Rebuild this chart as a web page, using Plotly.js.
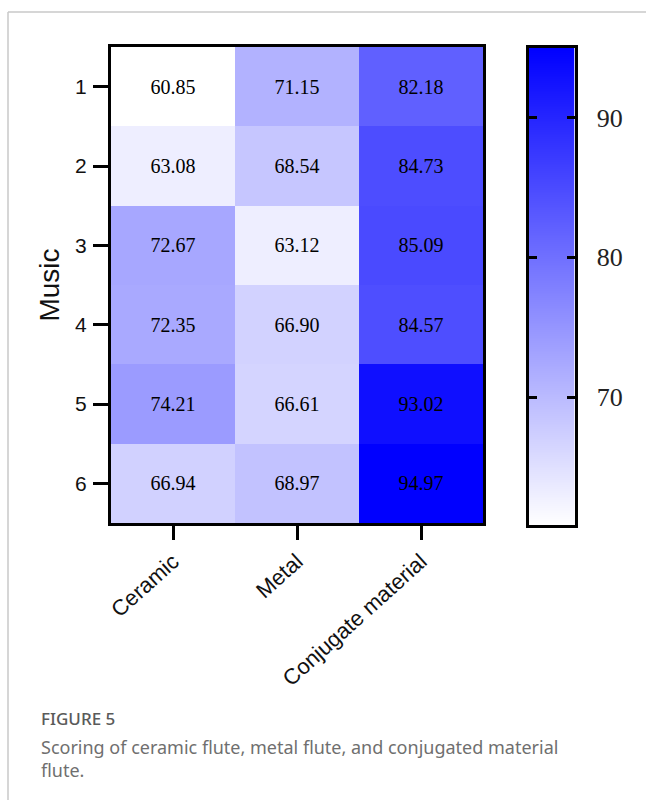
<!DOCTYPE html>
<html>
<head>
<meta charset="utf-8">
<script src="https://cdn.plot.ly/plotly-3.0.1.min.js"></script>
<style>
  html, body { margin: 0; padding: 0; background: #fff; }
  #chart { width: 646px; height: 800px; }
</style>
</head>
<body>
<div id="chart"></div>
<script>
// Flute materials (columns) and music pieces (rows)
const materials = ['Ceramic', 'Metal', 'Conjugate material'];
const pieces = ['1', '2', '3', '4', '5', '6'];

// Scores per music piece, one array per material
const ceramic   = [60.85, 63.08, 72.67, 72.35, 74.21, 66.94];
const metal     = [71.15, 68.54, 63.12, 66.90, 66.61, 68.97];
const conjugate = [82.18, 84.73, 85.09, 84.57, 93.02, 94.97];

const scaleTicks = [70, 80, 90];

// Heatmap rows: one row per piece, one column per material
const z = pieces.map((_, i) => [ceramic[i], metal[i], conjugate[i]]);
const all = ceramic.concat(metal, conjugate);
const zmin = Math.min(...all);
const zmax = Math.max(...all);
const scale = [[0, 'rgb(255,255,255)'], [1, 'rgb(0,0,255)']];

const W = 646, H = 800;
const px = v => v / W;
const py = v => 1 - v / H;

const serif = 'Liberation Serif, Times New Roman, serif';
const sans = 'Liberation Sans, Arial, sans-serif';

const heat = {
  type: 'heatmap',
  x: materials,
  y: pieces,
  z: z,
  zmin: zmin,
  zmax: zmax,
  colorscale: scale,
  showscale: false,
  texttemplate: '%{z:.2f}',
  textfont: { family: serif, size: 20, color: '#000' },
  hoverinfo: 'skip'
};

// Colour scale bar: the range end points, smoothly interpolated along its own axis
const scaleBar = {
  type: 'heatmap',
  xaxis: 'x2', yaxis: 'y2',
  x: [0, 1],
  y: [zmin, zmax],
  z: [[zmin, zmin], [zmax, zmax]],
  zmin: zmin,
  zmax: zmax,
  colorscale: scale,
  zsmooth: 'best',
  showscale: false,
  hoverinfo: 'skip'
};

const layout = {
  width: W, height: H,
  margin: { l: 0, r: 0, t: 0, b: 0 },
  paper_bgcolor: '#fff',
  plot_bgcolor: '#fff',
  showlegend: false,
  font: { family: sans, color: '#111' },
  xaxis: {
    domain: [px(111), px(483)],
    type: 'category',
    showline: true, linecolor: '#000', linewidth: 3, mirror: true,
    ticks: 'outside', ticklen: 14, tickwidth: 3, tickcolor: '#000',
    tickangle: -42,
    tickfont: { family: sans, size: 22, color: '#111' },
    showgrid: false, zeroline: false
  },
  yaxis: {
    domain: [py(523), py(47)],
    type: 'category',
    autorange: 'reversed',
    showline: true, linecolor: '#000', linewidth: 3, mirror: true,
    ticks: 'outside', ticklen: 15, tickwidth: 3, tickcolor: '#000',
    tickfont: { family: sans, size: 21, color: '#111' },
    ticklabelstandoff: 2,
    title: { text: 'Music', font: { family: sans, size: 28, color: '#111' }, standoff: 8 },
    showgrid: false, zeroline: false
  },
  xaxis2: {
    domain: [px(528.5), px(574.5)],
    anchor: 'y2',
    range: [0, 1],
    showline: true, linecolor: '#000', linewidth: 3, mirror: true,
    ticks: '', showticklabels: false,
    showgrid: false, zeroline: false
  },
  yaxis2: {
    domain: [py(525), py(48)],
    anchor: 'x2',
    side: 'right',
    range: [zmin, zmax],
    tickmode: 'array', tickvals: scaleTicks,
    ticks: 'inside', ticklen: 8, tickwidth: 3, tickcolor: '#000',
    showline: true, linecolor: '#000', linewidth: 3, mirror: 'ticks',
    showgrid: false, zeroline: false,
    tickfont: { family: serif, size: 26, color: '#222' },
    ticklabelstandoff: 14
  },
  shapes: [
    { type: 'line', xref: 'paper', yref: 'paper', x0: px(8), x1: 1, y0: py(12), y1: py(12), line: { color: '#c8c8c8', width: 1.5 } },
    { type: 'line', xref: 'paper', yref: 'paper', x0: px(8), x1: px(8), y0: py(12), y1: 0, line: { color: '#c8c8c8', width: 1.5 } }
  ],
  annotations: [
    { xref: 'paper', yref: 'paper', x: px(39), y: py(718), xanchor: 'left', yanchor: 'middle', showarrow: false,
      text: 'FIGURE 5', font: { family: 'Noto Sans, Open Sans, sans-serif', size: 17, color: '#5a5a5a', weight: 500 } },
    { xref: 'paper', yref: 'paper', x: px(39), y: py(758), xanchor: 'left', yanchor: 'middle', showarrow: false, align: 'left',
      text: 'Scoring of ceramic flute, metal flute, and conjugated material<br>flute.',
      font: { family: 'Noto Sans, Open Sans, sans-serif', size: 18, color: '#6f6f6f' } }
  ]
};

Plotly.newPlot('chart', [heat, scaleBar], layout, { displayModeBar: false, staticPlot: true });
</script>
</body>
</html>
